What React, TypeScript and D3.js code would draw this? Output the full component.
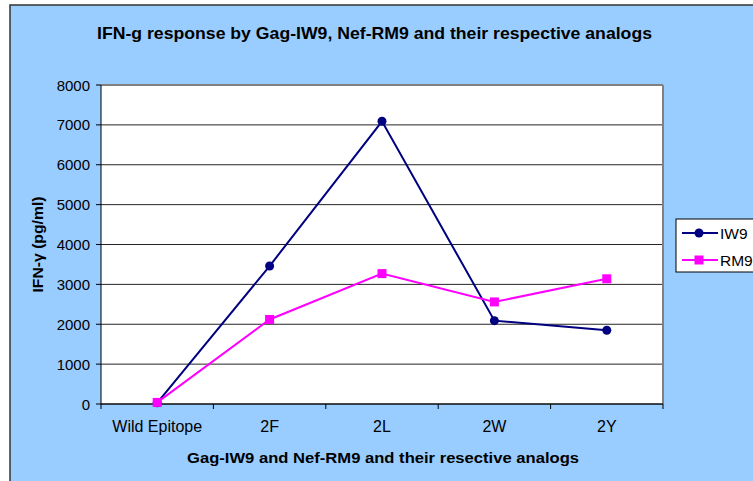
import React from "react";
import * as d3 from "d3";

const categories = ["Wild Epitope", "2F", "2L", "2W", "2Y"];
const iw9Values = [30, 3460, 7090, 2090, 1850];
const rm9Values = [40, 2120, 3270, 2560, 3140];
const yTicks = [0, 1000, 2000, 3000, 4000, 5000, 6000, 7000, 8000];
const seriesNames = ["IW9", "RM9"];

const W = 753;
const H = 481;
const plot = { left: 101, right: 663, top: 85, bottom: 404 };
const font = "Liberation Sans, Arial, sans-serif";

export default function App() {
  const x = d3
    .scaleBand<string>()
    .domain(categories)
    .range([plot.left, plot.right])
    .padding(0);
  const y = d3.scaleLinear().domain([0, 8000]).range([plot.bottom, plot.top]);
  const cx = (c: string) => (x(c) as number) + x.bandwidth() / 2;

  const line = d3
    .line<number>()
    .x((_, i) => cx(categories[i]))
    .y((d) => y(d));

  const catTicks = [...categories.map((c) => x(c) as number), plot.right];

  return (
    <svg
      width={W}
      height={H}
      style={{ position: "absolute", left: 0, top: 0, fontFamily: font }}
    >
      <rect x={0} y={0} width={W} height={H} fill="#ffffff" />
      <rect x={10} y={5} width={W + 20} height={H + 20} fill="#99CCFF" stroke="#333333" strokeWidth={1.5} />

      <text
        x={374.5}
        y={38.5}
        textAnchor="middle"
        fontSize={16.5}
        fontWeight="bold"
        textLength={555}
        lengthAdjust="spacingAndGlyphs"
        fill="#000"
      >
        IFN-g response by Gag-IW9, Nef-RM9 and their respective analogs
      </text>

      <rect
        x={plot.left}
        y={plot.top}
        width={plot.right - plot.left}
        height={plot.bottom - plot.top}
        fill="#ffffff"
      />
      {yTicks.map((t) => (
        <line
          key={"g" + t}
          x1={plot.left}
          x2={plot.right}
          y1={y(t)}
          y2={y(t)}
          stroke="#000"
          strokeWidth={1}
          opacity={0.85}
        />
      ))}
      <line x1={plot.left} x2={plot.right} y1={plot.top} y2={plot.top} stroke="#808080" strokeWidth={2} />
      <line x1={plot.right} x2={plot.right} y1={plot.top} y2={plot.bottom} stroke="#808080" strokeWidth={2} />

      {/* Y axis */}
      <line x1={plot.left} x2={plot.left} y1={plot.top} y2={plot.bottom + 0.5} stroke="#000" strokeWidth={1} />
      {yTicks.map((t) => (
        <g key={"yt" + t}>
          <line x1={plot.left - 5} x2={plot.left} y1={y(t)} y2={y(t)} stroke="#000" />
          <text x={90} y={y(t) + 5.5} textAnchor="end" fontSize={15} fill="#000">
            {t}
          </text>
        </g>
      ))}

      {/* X axis */}
      <line x1={plot.left} x2={plot.right} y1={plot.bottom} y2={plot.bottom} stroke="#000" strokeWidth={1} />
      {catTicks.map((t, i) => (
        <line key={"xt" + i} x1={t} x2={t} y1={plot.bottom} y2={plot.bottom + 5} stroke="#000" />
      ))}
      {categories.map((c) => (
        <text key={"xl" + c} x={cx(c)} y={432} textAnchor="middle" fontSize={16} fill="#000">
          {c}
        </text>
      ))}

      <text
        x={(plot.left + plot.right) / 2 + 1}
        y={463}
        textAnchor="middle"
        fontSize={15.5}
        fontWeight="bold"
        textLength={392}
        lengthAdjust="spacingAndGlyphs"
        fill="#000"
      >
        Gag-IW9 and Nef-RM9 and their resective analogs
      </text>
      <text
        transform={`translate(43, ${(plot.top + plot.bottom) / 2}) rotate(-90)`}
        textAnchor="middle"
        fontSize={15}
        fontWeight="bold"
        textLength={96}
        lengthAdjust="spacingAndGlyphs"
        fill="#000"
      >
        IFN-γ (pg/ml)
      </text>

      {/* Series */}
      <path d={line(iw9Values) || ""} fill="none" stroke="#000080" strokeWidth={2} />
      <path d={line(rm9Values) || ""} fill="none" stroke="#FF00FF" strokeWidth={2} />
      {iw9Values.map((v, i) => (
        <circle key={"c" + i} cx={cx(categories[i])} cy={y(v)} r={4.5} fill="#000080" />
      ))}
      {rm9Values.map((v, i) => (
        <rect key={"s" + i} x={cx(categories[i]) - 4.5} y={y(v) - 4.5} width={9} height={9} fill="#FF00FF" />
      ))}

      {/* Legend */}
      <rect x={676} y={219} width={100} height={53} fill="#ffffff" stroke="#000" strokeWidth={1} />
      <line x1={682} x2={718} y1={233} y2={233} stroke="#000080" strokeWidth={2} />
      <circle cx={699} cy={233} r={4.5} fill="#000080" />
      <text x={720} y={238.5} fontSize={15.5} fill="#000">
        {seriesNames[0]}
      </text>
      <line x1={682} x2={718} y1={260} y2={260} stroke="#FF00FF" strokeWidth={2} />
      <rect x={694.5} y={255.5} width={9} height={9} fill="#FF00FF" />
      <text x={720} y={265.5} fontSize={15.5} fill="#000">
        {seriesNames[1]}
      </text>
    </svg>
  );
}
